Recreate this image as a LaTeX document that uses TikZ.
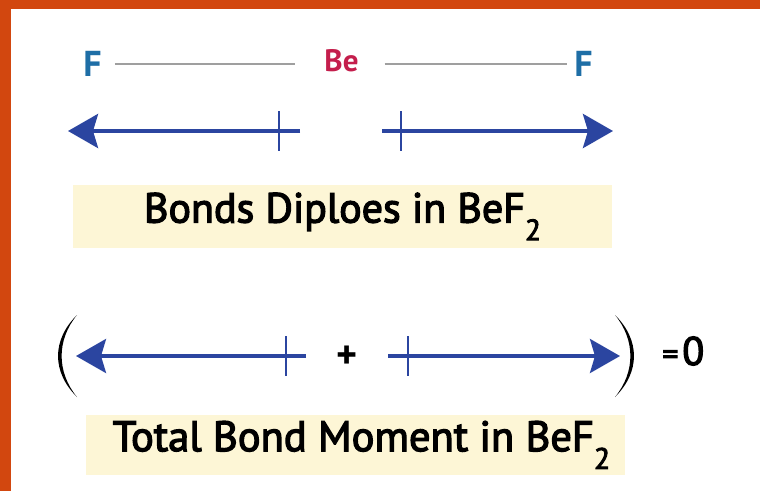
\documentclass[tikz,border=0pt]{standalone}
\usepackage{fontspec}
\setmainfont{PT Sans}
\newfontfamily\capfont{PT Sans}[FakeBold=3]
\usetikzlibrary{arrows.meta,positioning}
\definecolor{framered}{HTML}{D2470F}
\definecolor{atomblue}{HTML}{1E6EA6}
\definecolor{atomred}{HTML}{C41E4C}
\definecolor{dipblue}{HTML}{2B45A0}
\definecolor{capyellow}{HTML}{FDF6D6}
\newcommand{\lowtwo}{\raisebox{-0.42em}{\scalebox{0.7}{2}}}
\tikzset{
  atomF/.style={font=\bfseries\fontsize{36}{36}\selectfont,text=atomblue,inner sep=0pt},
  atomBe/.style={font=\bfseries\fontsize{31}{31}\selectfont,text=atomred,inner sep=0pt},
  bondline/.style={line width=2pt,gray!75},
  diparr/.style={-{Stealth[length=30pt,width=34pt,inset=5pt]},line width=4pt,draw=dipblue},
  diptick/.style={line width=2.5pt,dipblue},
  capbox/.style={fill=capyellow,inner sep=0pt,minimum width=539pt},
  paren/.style={fill=black}
}
\begin{document}
\begin{tikzpicture}[x=1pt,y=-1pt]
  \useasboundingbox (0,0) rectangle (760,491);
  \fill[white] (0,0) rectangle (760,491);
  % frame
  \fill[framered] (0,0) rectangle (760,9);
  \fill[framered] (0,0) rectangle (11,491);

  % atoms and bonds
  \node[atomF] (Fl) at (92.5,64) {F};
  \node[atomBe] (Be) at (341.5,61) {Be};
  \node[atomF] (Fr) at (583.5,64) {F};
  \draw[bondline,shorten <=13pt,shorten >=29pt] (Fl.east) -- (Fl.east -| Be.west);
  \draw[bondline,shorten <=26pt,shorten >=7pt] (Fr.west -| Be.east) -- (Fr.west);

  % dipole arrows, both rows
  \foreach \n/\y/\ls/\lt/\lk/\rs/\rt/\rk/\w in {one/131/300/68/279/382/613/401/4,two/356/306/76/286/388/620/408/3.4}{
    \coordinate (\n Ltail) at (\ls,\y);
    \coordinate (\n Ltip) at (\lt,\y);
    \coordinate (\n Rtail) at (\rs,\y);
    \coordinate (\n Rtip) at (\rt,\y);
    \coordinate (\n Ltick) at (\lk,\y);
    \coordinate (\n Rtick) at (\rk,\y);
    \draw[diparr,line width=\w pt] (\n Ltail) -- (\n Ltip);
    \draw[diparr,line width=\w pt] (\n Rtail) -- (\n Rtip);
    \draw[diptick] ([yshift=20pt]\n Ltick) -- ([yshift=-20pt]\n Ltick);
    \draw[diptick] ([yshift=20pt]\n Rtick) -- ([yshift=-20pt]\n Rtick);
  }

  \node[capbox,minimum height=63pt,font=\capfont\fontsize{42}{42}\selectfont] (cap1) at (342.5,216.5) {Bonds Diploes in BeF\lowtwo};

  % sum
  \fill[paren] (77,315) .. controls (51.7,340) and (51.7,372) .. (77,397)
    .. controls (56.5,372) and (56.5,340) .. (77,315);
  \fill[paren] (615,315) .. controls (640.3,340) and (640.3,372) .. (615,397)
    .. controls (635.5,372) and (635.5,340) .. (615,315);
  \node[font=\bfseries\fontsize{40}{40}\selectfont,inner sep=0pt] (plus) at (347,357) {+};
  \node[font=\capfont\fontsize{40}{40}\selectfont,inner sep=0pt,anchor=west] (zero) at (662,351) {{\fontsize{32}{32}\selectfont=}\hspace{4pt}0};

  \node[capbox,minimum height=60pt,font=\capfont\fontsize{42.5}{42.5}\selectfont] (cap2) at (355.5,445) {\hspace*{12pt}Total Bond Moment in BeF\lowtwo};
\end{tikzpicture}
\end{document}
